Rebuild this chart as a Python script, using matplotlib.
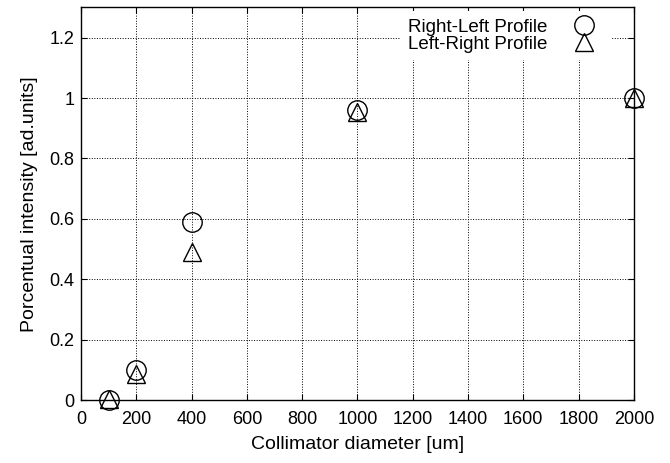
import matplotlib
matplotlib.use('Agg')
import matplotlib.pyplot as plt
from matplotlib.ticker import FormatStrFormatter

plt.rcParams['font.family'] = ['Liberation Sans', 'DejaVu Sans']

diameters = [100, 200, 400, 1000, 2000]
right_left = [0.0, 0.10, 0.59, 0.96, 1.0]
left_right = [0.005, 0.086, 0.49, 0.953, 1.0]

x_ticks = [0, 200, 400, 600, 800, 1000, 1200, 1400, 1600, 1800, 2000]
y_ticks = [0, 0.2, 0.4, 0.6, 0.8, 1.0, 1.2]

fig = plt.figure(figsize=(6.7, 4.63), dpi=100)
ax = fig.add_axes([0.121, 0.136, 0.825, 0.848])

ax.plot(diameters, right_left, linestyle='none', marker='o', markersize=14,
        markerfacecolor='none', markeredgecolor='black', markeredgewidth=1.0,
        label='Right-Left Profile', clip_on=False, zorder=3)
ax.plot(diameters, left_right, linestyle='none', marker='^', markersize=13,
        markerfacecolor='none', markeredgecolor='black', markeredgewidth=1.0,
        label='Left-Right Profile', clip_on=False, zorder=3)

ax.set_xlim(0, 2000)
ax.set_ylim(0, 1.3)
ax.set_xticks(x_ticks)
ax.set_yticks(y_ticks)
ax.yaxis.set_major_formatter(FormatStrFormatter('%g'))
ax.grid(True, linestyle=':', color='black', linewidth=0.7)
ax.tick_params(direction='in', top=True, right=True, labelsize=13, length=4)
ax.tick_params(axis='x', pad=8)
ax.tick_params(axis='y', pad=5)
for s in ax.spines.values():
    s.set_linewidth(1.0)

ax.set_xlabel('Collimator diameter [um]', fontsize=14, labelpad=6)
ax.set_ylabel('Porcentual intensity [ad.units]', fontsize=14, labelpad=8)

leg = ax.legend(loc='upper right', markerfirst=False, fontsize=13.5,
                frameon=True, framealpha=1, edgecolor='none', fancybox=False,
                labelspacing=0.0, handletextpad=1.0, borderaxespad=0.2,
                bbox_to_anchor=(0.965, 1.0))
leg.get_frame().set_facecolor('white')

fig.savefig('out.png', dpi=100)
